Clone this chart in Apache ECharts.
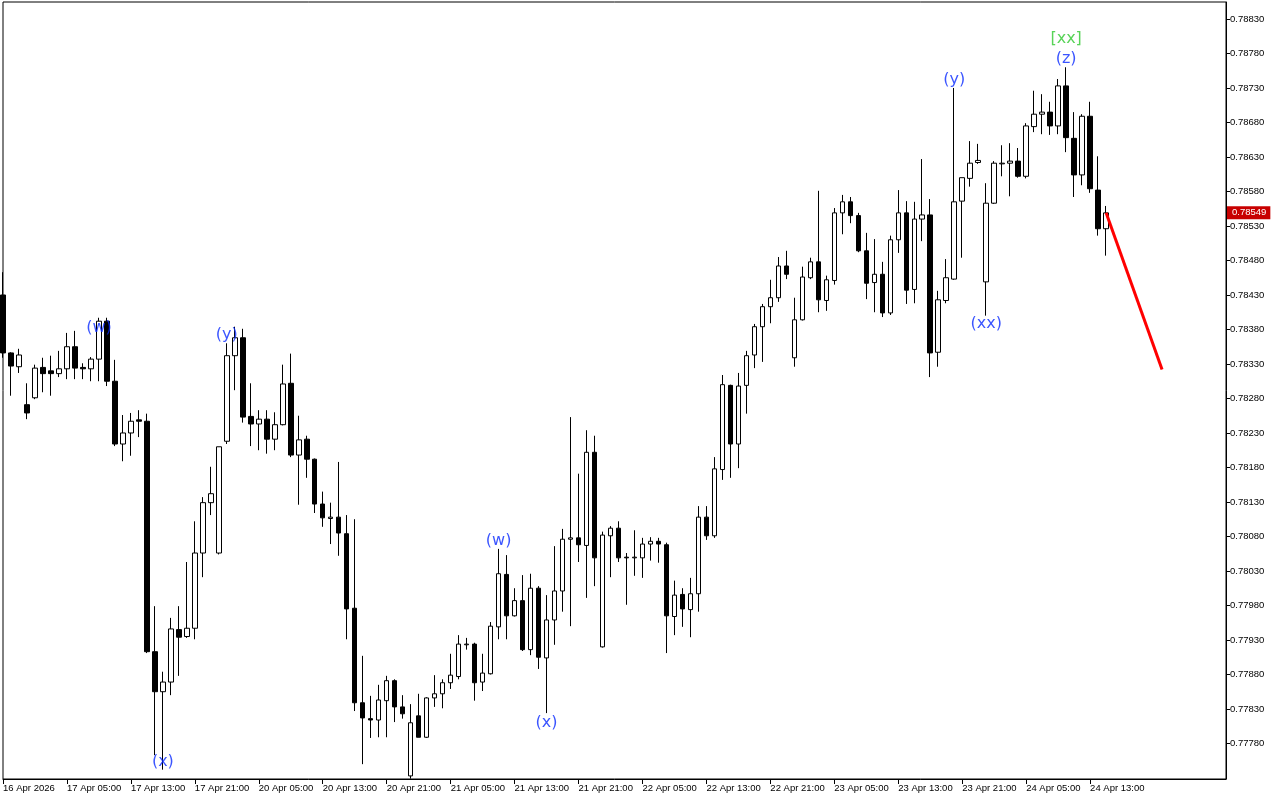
<!DOCTYPE html>
<html>
<head>
<meta charset="utf-8">
<script src="https://cdn.jsdelivr.net/npm/echarts@6/dist/echarts.min.js"></script>
<style>
html,body{margin:0;padding:0;background:#fff;}
#chart{width:1280px;height:800px;}
</style>
</head>
<body>
<div id="chart"></div>
<script>
// ---- data (H1 candles, 16 Apr 21:00 .. 24 Apr 15:00) ----
const opens = [
0.78430,0.78346,0.78326,0.78271,0.78281,0.78325,0.78320,0.78316,0.78323,0.78355,
0.78325,0.78323,0.78337,0.78392,0.78305,0.78214,0.78230,0.78249,0.78247,0.77913,
0.77855,0.77869,0.77945,0.77935,0.77947,0.78056,0.78129,0.78056,0.78218,0.78342,
0.78368,0.78254,0.78243,0.78250,0.78221,0.78242,0.78302,0.78198,0.78221,0.78192,
0.78127,0.78106,0.78108,0.78084,0.77976,0.77839,0.77816,0.77814,0.77842,0.77871,
0.77833,0.77733,0.77820,0.77789,0.77846,0.77852,0.77868,0.77877,0.77923,0.77924,
0.77869,0.77881,0.77949,0.78025,0.77965,0.77987,0.77916,0.78005,0.77904,0.77959,
0.78001,0.78076,0.78078,0.78067,0.78202,0.77920,0.78081,0.78092,0.78050,0.78049,
0.78049,0.78069,0.78073,0.78068,0.77964,0.77996,0.77974,0.77997,0.78108,0.78081,
0.78177,0.78299,0.78214,0.78299,0.78343,0.78384,0.78413,0.78426,0.78472,0.78339,
0.78394,0.78455,0.78478,0.78422,0.78451,0.78549,0.78565,0.78545,0.78494,0.78448,
0.78460,0.78404,0.78510,0.78549,0.78438,0.78540,0.78546,0.78347,0.78422,0.78453,
0.78566,0.78599,0.78622,0.78449,0.78563,0.78620,0.78621,0.78624,0.78602,0.78674,
0.78692,0.78695,0.78675,0.78733,0.78657,0.78604,0.78689,0.78582,0.78526
];
const highs = [
0.78463,0.78347,0.78352,0.78302,0.78329,0.78339,0.78342,0.78349,0.78375,0.78378,
0.78331,0.78340,0.78397,0.78397,0.78336,0.78256,0.78259,0.78263,0.78258,0.77979,
0.77884,0.77962,0.77979,0.78043,0.78102,0.78137,0.78181,0.78210,0.78360,0.78384,
0.78381,0.78302,0.78263,0.78263,0.78260,0.78329,0.78345,0.78255,0.78226,0.78193,
0.78145,0.78129,0.78188,0.78111,0.78105,0.77907,0.77849,0.77865,0.77878,0.77873,
0.77850,0.77837,0.77852,0.77847,0.77879,0.77873,0.77910,0.77937,0.77933,0.77926,
0.77910,0.77956,0.78062,0.78053,0.78005,0.78024,0.78026,0.78008,0.77995,0.78066,
0.78091,0.78253,0.78171,0.78234,0.78226,0.78087,0.78095,0.78102,0.78056,0.78089,
0.78078,0.78079,0.78078,0.78071,0.78016,0.78005,0.78020,0.78124,0.78124,0.78195,
0.78314,0.78300,0.78317,0.78349,0.78388,0.78417,0.78452,0.78485,0.78494,0.78426,
0.78471,0.78484,0.78581,0.78458,0.78556,0.78575,0.78572,0.78549,0.78520,0.78511,
0.78478,0.78516,0.78582,0.78566,0.78565,0.78627,0.78569,0.78436,0.78482,0.78730,
0.78600,0.78653,0.78649,0.78592,0.78624,0.78647,0.78650,0.78643,0.78679,0.78726,
0.78721,0.78710,0.78743,0.78760,0.78695,0.78692,0.78710,0.78631,0.78559
];
const lows = [
0.78339,0.78284,0.78317,0.78250,0.78279,0.78289,0.78284,0.78311,0.78308,0.78308,
0.78308,0.78305,0.78305,0.78298,0.78211,0.78189,0.78197,0.78224,0.77911,0.77763,
0.77742,0.77850,0.77878,0.77933,0.77931,0.78021,0.78111,0.78054,0.78214,0.78292,
0.78245,0.78211,0.78205,0.78200,0.78205,0.78241,0.78195,0.78126,0.78165,0.78114,
0.78094,0.78069,0.78052,0.77931,0.77827,0.77750,0.77788,0.77789,0.77789,0.77811,
0.77816,0.77729,0.77789,0.77788,0.77833,0.77831,0.77859,0.77873,0.77916,0.77842,
0.77856,0.77880,0.77931,0.77931,0.77964,0.77914,0.77908,0.77888,0.77824,0.77923,
0.77971,0.77950,0.78043,0.77991,0.78008,0.77919,0.78021,0.78043,0.77981,0.78023,
0.78020,0.78045,0.78042,0.77911,0.77937,0.77949,0.77934,0.77971,0.78075,0.78078,
0.78162,0.78165,0.78179,0.78258,0.78324,0.78333,0.78389,0.78420,0.78453,0.78326,
0.78393,0.78453,0.78405,0.78407,0.78445,0.78518,0.78534,0.78492,0.78424,0.78405,
0.78398,0.78401,0.78491,0.78417,0.78418,0.78508,0.78311,0.78326,0.78418,0.78452,
0.78484,0.78587,0.78620,0.78400,0.78562,0.78602,0.78573,0.78600,0.78599,0.78666,
0.78663,0.78662,0.78663,0.78637,0.78572,0.78589,0.78578,0.78516,0.78487
];
const closes = [
0.78346,0.78327,0.78343,0.78259,0.78324,0.78316,0.78316,0.78323,0.78355,0.78324,
0.78323,0.78337,0.78392,0.78305,0.78214,0.78230,0.78247,0.78247,0.77913,0.77855,
0.77869,0.77946,0.77934,0.77947,0.78056,0.78129,0.78142,0.78210,0.78342,0.78368,
0.78253,0.78243,0.78250,0.78221,0.78242,0.78301,0.78198,0.78220,0.78192,0.78127,
0.78107,0.78108,0.78085,0.77975,0.77839,0.77817,0.77814,0.77843,0.77871,0.77833,
0.77823,0.77810,0.77789,0.77846,0.77852,0.77868,0.77879,0.77924,0.77924,0.77868,
0.77882,0.77950,0.78026,0.77965,0.77987,0.77916,0.78005,0.77905,0.77959,0.78001,
0.78076,0.78078,0.78068,0.78202,0.78049,0.78082,0.78092,0.78049,0.78049,0.78050,
0.78069,0.78073,0.78069,0.77965,0.77995,0.77975,0.77997,0.78108,0.78081,0.78178,
0.78300,0.78214,0.78298,0.78342,0.78384,0.78413,0.78426,0.78472,0.78460,0.78394,
0.78456,0.78478,0.78423,0.78452,0.78549,0.78565,0.78545,0.78494,0.78447,0.78460,
0.78404,0.78510,0.78549,0.78437,0.78540,0.78546,0.78346,0.78423,0.78455,0.78565,
0.78600,0.78621,0.78625,0.78563,0.78621,0.78621,0.78624,0.78602,0.78675,0.78692,
0.78695,0.78675,0.78733,0.78658,0.78604,0.78689,0.78584,0.78526,0.78549
];
// time-axis labels, one every 8 hourly bars starting at bar 0
const tickLabels = [
'16 Apr 2026','17 Apr 05:00','17 Apr 13:00','17 Apr 21:00','20 Apr 05:00','20 Apr 13:00',
'20 Apr 21:00','21 Apr 05:00','21 Apr 13:00','21 Apr 21:00','22 Apr 05:00','22 Apr 13:00',
'22 Apr 21:00','23 Apr 05:00','23 Apr 13:00','23 Apr 21:00','24 Apr 05:00','24 Apr 13:00'
];
const labelStep = 8;
const totalSlots = 154;          // bars + empty space to the right
const yTicks = [0.77780,0.77830,0.77880,0.77930,0.77980,0.78030,0.78080,0.78130,0.78180,0.78230,
0.78280,0.78330,0.78380,0.78430,0.78480,0.78530,0.78580,0.78630,0.78680,0.78730,0.78780,0.78830];
const yMin = 0.777285, yMax = 0.788546;
const bidPrice = 0.78549;
// wave labels: [bar index, price, text]
const waveLabels = [
[12,0.78382,'(w)'],[20,0.77753,'(x)'],[28,0.78372,'(y)'],
[62,0.78073,'(w)'],[68,0.77810,'(x)'],
[119,0.78742,'(y)'],[123,0.78388,'(xx)'],[133,0.78772,'(z)']
];
const degreeLabels = [[133,0.78801,'[xx]']];
// projected move
const projection = [[138,0.78549],[145,0.78322]];

// ---- build ----
const categories = Array.from({length: totalSlots}, (_, i) => String(i));
const candles = opens.map((o, i) => [o, closes[i], lows[i], highs[i]]);
const lastLabelIdx = (tickLabels.length - 1) * labelStep;
const showIdx = (i) => i % labelStep === 0 && i <= lastLabelIdx;

const chart = echarts.init(document.getElementById('chart'), null, {renderer: 'canvas'});
chart.setOption({
  animation: false,
  backgroundColor: '#ffffff',
  grid: {left: 2, right: 54, top: 2, bottom: 21, show: true, borderColor: '#000', borderWidth: 1, backgroundColor: '#fff'},
  xAxis: {
    type: 'category', data: categories, boundaryGap: false,
    axisLine: {show: true, lineStyle: {color: '#000', width: 1}},
    axisTick: {show: true, interval: showIdx, length: 5, lineStyle: {color: '#000'}},
    axisLabel: {
      interval: showIdx, align: 'left', margin: 4,
      formatter: (v, i) => tickLabels[i / labelStep] || '',
      color: '#000', fontSize: 9.5, fontFamily: 'Liberation Sans'
    },
    splitLine: {show: false}
  },
  yAxis: [{
    type: 'value', position: 'right', min: yMin, max: yMax, scale: true,
    axisLine: {show: true, lineStyle: {color: '#000'}},
    axisTick: {show: true, customValues: yTicks, length: 4, lineStyle: {color: '#000'}},
    axisLabel: {customValues: yTicks, formatter: v => v.toFixed(5), color: '#000', fontSize: 9.5, fontFamily: 'Liberation Sans', margin: 4},
    splitLine: {show: false}
  },{
    type: 'value', position: 'right', min: yMin, max: yMax, scale: true,
    axisLine: {show: false}, axisTick: {show: false}, splitLine: {show: false},
    axisLabel: {customValues: [bidPrice], formatter: v => v.toFixed(5), color: '#fff', backgroundColor: '#c80000',
      padding: [2, 4, 1, 5], fontSize: 9.5, fontFamily: 'Liberation Sans', margin: 1}
  }],
  series: [{
    type: 'candlestick', data: candles, barWidth: 5,
    itemStyle: {color: '#ffffff', color0: '#000000', borderColor: '#000000', borderColor0: '#000000', borderWidth: 1},
    markLine: {
      silent: true, symbol: ['none', 'none'],
      lineStyle: {color: '#8a1010', width: 1, type: 'solid'},
      label: {show: false},
      data: [{yAxis: bidPrice}]
    }
  },{
    type: 'line', data: projection, symbol: 'none', z: 5,
    lineStyle: {color: '#ff0000', width: 3}
  },{
    type: 'scatter', z: 10, symbolSize: 1, itemStyle: {color: 'rgba(0,0,0,0)'},
    data: waveLabels.map(d => ({value: [d[0], d[1]], name: d[2]})),
    label: {show: true, position: 'inside', formatter: p => p.name, color: '#0a2aff', fontSize: 16, fontFamily: 'DejaVu Sans'}
  },{
    type: 'scatter', z: 10, symbolSize: 1, itemStyle: {color: 'rgba(0,0,0,0)'},
    data: degreeLabels.map(d => ({value: [d[0], d[1]], name: d[2]})),
    label: {show: true, position: 'inside', formatter: p => p.name, color: '#2ec82e', fontSize: 16, fontFamily: 'DejaVu Sans'}
  }]
});
</script>
</body>
</html>
